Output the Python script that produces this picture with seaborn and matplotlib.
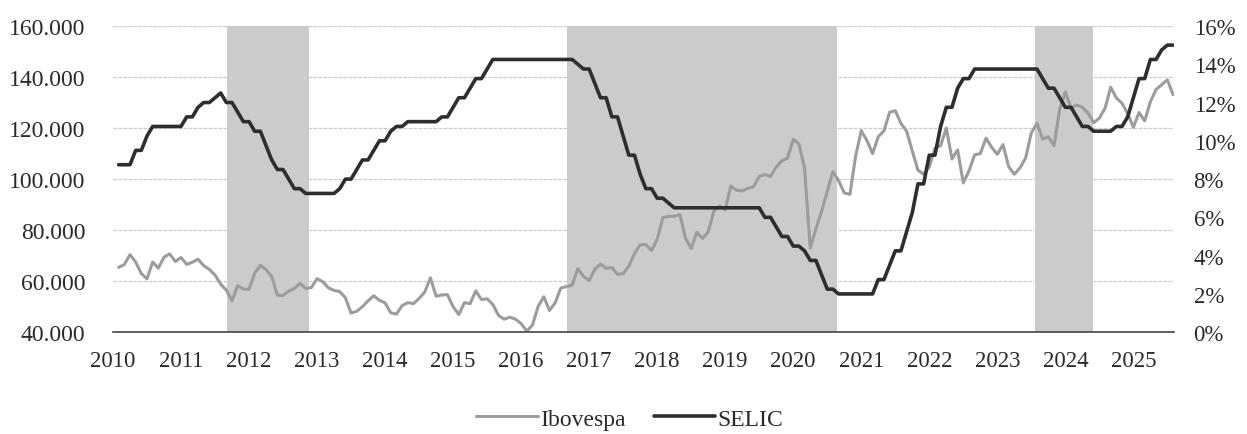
import numpy as np
import pandas as pd
import matplotlib
matplotlib.use("Agg")
import matplotlib.pyplot as plt
from matplotlib.lines import Line2D
from matplotlib.ticker import FuncFormatter
import seaborn as sns

# Ibovespa, end of month, thousands of points (Jan 2010 - Jul 2025)
ibov_2010 = [65.4, 66.5, 70.4, 67.5, 63.0, 60.9, 67.5, 65.1, 69.4, 70.7, 67.7, 69.3]
ibov_2011 = [66.6, 67.4, 68.6, 66.1, 64.6, 62.4, 58.8, 56.5, 52.3, 58.3, 56.9, 56.8]
ibov_2012 = [63.1, 66.2, 64.5, 61.8, 54.5, 54.4, 56.1, 57.1, 59.2, 57.1, 57.5, 61.0]
ibov_2013 = [59.8, 57.4, 56.4, 55.9, 53.5, 47.5, 48.2, 50.0, 52.3, 54.3, 52.5, 51.5]
ibov_2014 = [47.6, 47.1, 50.4, 51.6, 51.2, 53.2, 55.8, 61.3, 54.1, 54.6, 54.7, 50.0]
ibov_2015 = [46.9, 51.6, 51.2, 56.2, 52.8, 53.1, 50.9, 46.6, 45.1, 45.9, 45.1, 43.4]
ibov_2016 = [40.4, 42.8, 50.1, 53.9, 48.5, 51.5, 57.3, 57.9, 58.4, 64.9, 61.9, 60.2]
ibov_2017 = [64.7, 66.7, 65.0, 65.4, 62.7, 62.9, 65.9, 70.8, 74.3, 74.3, 72.0, 76.4]
ibov_2018 = [84.9, 85.4, 85.4, 86.1, 76.8, 72.8, 79.2, 76.7, 79.3, 87.4, 89.5, 87.9]
ibov_2019 = [97.4, 95.6, 95.4, 96.4, 97.0, 101.0, 101.8, 101.1, 104.7, 107.2, 108.2, 115.6]
ibov_2020 = [113.8, 104.2, 73.0, 80.5, 87.4, 95.1, 102.9, 99.4, 94.6, 94.0, 108.9, 119.0]
ibov_2021 = [115.1, 110.0, 116.6, 118.9, 126.2, 126.8, 121.8, 118.8, 111.0, 103.5, 101.9, 104.8]
ibov_2022 = [112.1, 113.1, 120.0, 107.9, 111.4, 98.5, 103.2, 109.5, 110.0, 116.0, 112.5, 109.7]
ibov_2023 = [113.5, 104.9, 101.9, 104.4, 108.3, 118.1, 121.9, 115.7, 116.6, 113.1, 127.3, 134.2]
ibov_2024 = [127.8, 129.0, 128.1, 125.9, 122.1, 123.9, 127.7, 136.0, 131.8, 129.7, 125.7, 120.3]
ibov_2025 = [126.1, 122.8, 130.3, 135.1, 137.0, 138.9, 133.1]

# SELIC target, % a.a., end of month
selic_2010 = [8.75, 8.75, 8.75, 9.5, 9.5, 10.25, 10.75, 10.75, 10.75, 10.75, 10.75, 10.75]
selic_2011 = [11.25, 11.25, 11.75, 12.0, 12.0, 12.25, 12.5, 12.0, 12.0, 11.5, 11.0, 11.0]
selic_2012 = [10.5, 10.5, 9.75, 9.0, 8.5, 8.5, 8.0, 7.5, 7.5, 7.25, 7.25, 7.25]
selic_2013 = [7.25, 7.25, 7.25, 7.5, 8.0, 8.0, 8.5, 9.0, 9.0, 9.5, 10.0, 10.0]
selic_2014 = [10.5, 10.75, 10.75, 11.0, 11.0, 11.0, 11.0, 11.0, 11.0, 11.25, 11.25, 11.75]
selic_2015 = [12.25, 12.25, 12.75, 13.25, 13.25, 13.75, 14.25, 14.25, 14.25, 14.25, 14.25, 14.25]
selic_2016 = [14.25, 14.25, 14.25, 14.25, 14.25, 14.25, 14.25, 14.25, 14.25, 14.0, 13.75, 13.75]
selic_2017 = [13.0, 12.25, 12.25, 11.25, 11.25, 10.25, 9.25, 9.25, 8.25, 7.5, 7.5, 7.0]
selic_2018 = [7.0, 6.75, 6.5, 6.5, 6.5, 6.5, 6.5, 6.5, 6.5, 6.5, 6.5, 6.5]
selic_2019 = [6.5, 6.5, 6.5, 6.5, 6.5, 6.5, 6.0, 6.0, 5.5, 5.0, 5.0, 4.5]
selic_2020 = [4.5, 4.25, 3.75, 3.75, 3.0, 2.25, 2.25, 2.0, 2.0, 2.0, 2.0, 2.0]
selic_2021 = [2.0, 2.0, 2.75, 2.75, 3.5, 4.25, 4.25, 5.25, 6.25, 7.75, 7.75, 9.25]
selic_2022 = [9.25, 10.75, 11.75, 11.75, 12.75, 13.25, 13.25, 13.75, 13.75, 13.75, 13.75, 13.75]
selic_2023 = [13.75, 13.75, 13.75, 13.75, 13.75, 13.75, 13.75, 13.25, 12.75, 12.75, 12.25, 11.75]
selic_2024 = [11.75, 11.25, 10.75, 10.75, 10.5, 10.5, 10.5, 10.5, 10.75, 10.75, 11.25, 12.25]
selic_2025 = [13.25, 13.25, 14.25, 14.25, 14.75, 15.0, 15.0]

# shaded periods (fractional years)
shade_start = [2011.68, 2016.68, 2023.56]
shade_end = [2012.88, 2020.65, 2024.41]

year_ticks = list(range(2010, 2026))
left_ticks = [40000, 60000, 80000, 100000, 120000, 140000, 160000]
right_ticks = [0, 2, 4, 6, 8, 10, 12, 14, 16]

ibov = sum([ibov_2010, ibov_2011, ibov_2012, ibov_2013, ibov_2014, ibov_2015,
            ibov_2016, ibov_2017, ibov_2018, ibov_2019, ibov_2020, ibov_2021,
            ibov_2022, ibov_2023, ibov_2024, ibov_2025], [])
selic = sum([selic_2010, selic_2011, selic_2012, selic_2013, selic_2014, selic_2015,
             selic_2016, selic_2017, selic_2018, selic_2019, selic_2020, selic_2021,
             selic_2022, selic_2023, selic_2024, selic_2025], [])

df = pd.DataFrame({
    "ano": 2010 + (np.arange(len(ibov)) + 1) / 12,
    "Ibovespa": np.array(ibov) * 1000,
    "SELIC": selic,
})

sns.set_theme(style="white")
plt.rcParams["font.family"] = ["Liberation Serif", "DejaVu Serif"]

fig = plt.figure(figsize=(12.47, 4.35), dpi=100)
ax = fig.add_axes([0.0906, 0.234, 0.851, 0.704])
ax2 = ax.twinx()

for s, e in zip(shade_start, shade_end):
    ax.axvspan(s, e, color="#cbcbcb", lw=0, zorder=0)

for t in left_ticks:
    ax.axhline(t, color="#cccccc", lw=0.9, ls=(0, (3, 1)), zorder=0.5)

ibov_color = "#9c9c9c"
selic_color = "#2e2e2e"
sns.lineplot(data=df, x="ano", y="Ibovespa", ax=ax, color=ibov_color, lw=2.2, zorder=2)
sns.lineplot(data=df, x="ano", y="SELIC", ax=ax2, color=selic_color, lw=2.6, zorder=3)

ax.set_xlim(2010, 2025.6)
ax.set_ylim(40000, 160000)
ax2.set_ylim(0, 16)
ax.set_xticks(year_ticks)
ax.set_yticks(left_ticks)
ax2.set_yticks(right_ticks)
ax.yaxis.set_major_formatter(FuncFormatter(lambda v, p: f"{int(v):,}".replace(",", ".")))
ax2.yaxis.set_major_formatter(FuncFormatter(lambda v, p: f"{int(v)}%"))
ax.set_xlabel("")
ax.set_ylabel("")
ax2.set_ylabel("")

for a in (ax, ax2):
    for sp in a.spines.values():
        sp.set_visible(False)
ax.spines["bottom"].set_visible(True)
ax.spines["bottom"].set_color("#444444")
ax.spines["bottom"].set_linewidth(1.2)

ax.tick_params(axis="x", direction="inout", length=8, width=1.2, color="#444444",
               labelsize=16.5, labelcolor="#2a2a2a", pad=9)
ax.tick_params(axis="y", length=0, labelsize=17, labelcolor="#2a2a2a", pad=20)
ax2.tick_params(axis="y", length=0, labelsize=16.5, labelcolor="#2a2a2a", pad=14)

handles = [Line2D([], [], color=ibov_color, lw=2.2), Line2D([], [], color=selic_color, lw=2.6)]
fig.legend(handles, ["Ibovespa", "SELIC"], loc="center", bbox_to_anchor=(0.505, 0.035),
           ncol=2, frameon=False, fontsize=17, handlelength=2.6, handletextpad=0.1,
           columnspacing=1.2, labelcolor="#2a2a2a")

fig.savefig("out.png", dpi=100)
